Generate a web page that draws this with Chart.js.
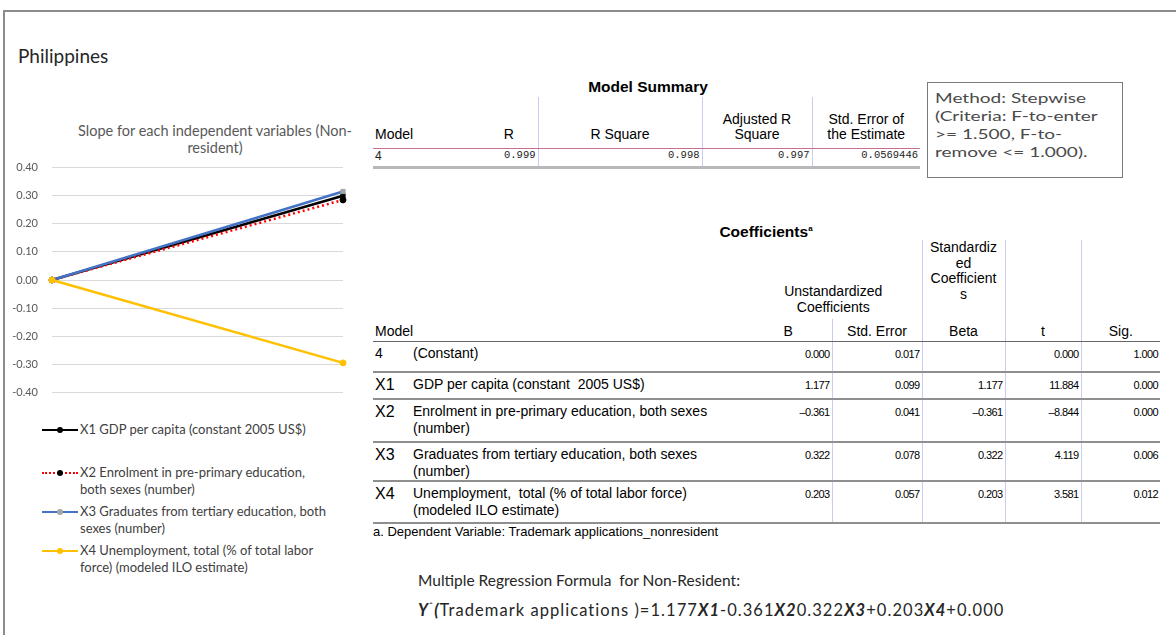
<!DOCTYPE html>
<html>
<head>
<meta charset="utf-8">
<script src="https://cdn.jsdelivr.net/npm/chart.js@4.4.1/dist/chart.umd.min.js"></script>
<style>
  html, body { margin: 0; padding: 0; background: #fff; }
  body { width: 1176px; height: 635px; overflow: hidden; position: relative; font-family: "Liberation Sans", Arial, sans-serif; color: #000; }
  .frame { position: absolute; left: 3px; top: 10px; width: 1220px; height: 700px; border: 2px solid #8c8c8c; box-sizing: border-box; }
  .country { position: absolute; left: 18px; top: 44px; font: 19px Lato, sans-serif; color: #262626; }
  .chart-title { position: absolute; left: 40px; top: 122px; width: 350px; text-align: center; font: 14.5px/17px Lato, sans-serif; color: #595959; }
  .chart-box { position: absolute; left: 0; top: 147px; width: 360px; height: 266px; }
  .legend { position: absolute; left: 42px; top: 421px; font: 13px/17px Lato, sans-serif; color: #404040; }
  .legend .item { position: relative; padding-left: 38px; margin-bottom: 5px; }
  .legend .item.first { margin-bottom: 26px; }
  .legend .swatch { position: absolute; left: 0; top: 8px; width: 36px; height: 0; }
  .legend .dot { position: absolute; left: 15px; top: 6px; width: 6px; height: 6px; border-radius: 50%; }

  .tbl-title { position: absolute; font-weight: bold; font-size: 15.5px; text-align: center; }
  table { position: absolute; border-collapse: collapse; table-layout: fixed; font-size: 14px; }
  th { font-weight: normal; padding: 0 2px; }
  .ms th { vertical-align: bottom; line-height: 15px; height: 45px; padding-bottom: 6px; border-bottom: 1px solid #c7708e; }
  .ms td { height: 17px; text-align: right; padding: 0 2px; font: 10.5px "Liberation Mono", monospace; color: #222; border-bottom: 3px solid #b8b8b8; vertical-align: top; }
  .ms .vl { border-right: 1px solid #cbcbf2; }
  .ms td.lft { text-align: left; font-family: "Liberation Sans", Arial, sans-serif; font-size: 12px; }

  .cf th { line-height: 15.5px; vertical-align: bottom; }
  .cf tr.h1 th { height: 74px; padding-bottom: 4px; }
  .cf tr.h1 th.std { height: 61px; padding-bottom: 17px; }
  .cf tr.h2 th { height: 20px; padding-bottom: 2px; border-bottom: 1px solid #666; }
  .cf td { vertical-align: top; padding: 3px 2px 0; line-height: 17px; border-bottom: 2px solid #8f8f8f; }
  .cf td.num { text-align: right; font-size: 11px; letter-spacing: -0.6px; padding-top: 4px; }
  .cf td.x { font-size: 16px; padding-left: 2px; line-height: 17px; }
  .cf .vl { border-right: 1px solid #cbcbf2; }

  .method { position: absolute; left: 927px; top: 82px; width: 196px; height: 96px; box-sizing: border-box; border: 1.5px solid #7a7a7a; }
  .method div { position: absolute; left: 7px; top: 6px; width: 140px; font: 14px/18px Lato, sans-serif; color: #4a4a4a; transform: scaleX(1.36); transform-origin: 0 0; white-space: nowrap; }
  .foot { position: absolute; left: 373px; top: 524px; font-size: 13px; }
  .formula { position: absolute; left: 418px; top: 568px; font: 15.5px/25px Lato, sans-serif; color: #262626; }
  .formula .f2 { font-size: 16.5px; letter-spacing: 1.05px; }
</style>
</head>
<body>
<div class="frame"></div>
<div class="country">Philippines</div>
<div class="chart-title">Slope for each independent variables (Non-<br>resident)</div>
<div class="chart-box"><canvas id="slopeChart"></canvas></div>
<div class="legend" id="legend"></div>

<div class="tbl-title" style="left:548px; top:78px; width:200px;">Model Summary</div>
<table class="ms" style="left:373px; top:97px; width:547px;" id="modelSummary"></table>

<div class="method"><div>Method: Stepwise<br>(Criteria: F-to-enter<br>&gt;= 1.500, F-to-<br>remove &lt;= 1.000).</div></div>

<div class="tbl-title" style="left:666px; top:223px; width:200px;">Coefficients<sup style="font-size:8px">a</sup></div>
<table class="cf" style="left:373px; top:240px; width:787px;" id="coefTable"></table>

<div class="foot">a. Dependent Variable: Trademark applications_nonresident</div>
<div class="formula">Multiple Regression Formula&nbsp; for Non-Resident:<br><span class="f2"><b><i>Y</i></b><sup style="font-size:10px">ˆ</sup><b><i>(</i></b>Trademark applications )=1.177<b><i>X1</i></b>-0.361<b><i>X2</i></b>0.322<b><i>X3</i></b>+0.203<b><i>X4</i></b>+0.000</span></div>

<script>
// chart data
const categories = ['', ''];
const x1Values = [0, 0.30];
const x2Values = [0, 0.285];
const x3Values = [0, 0.315];
const x4Values = [0, -0.295];
const yMin = -0.4;
const yMax = 0.4;
const yStep = 0.1;

const legendLines = [
    ['X1 GDP per capita (constant 2005 US$)'],
    ['X2 Enrolment in pre-primary education,', 'both sexes (number)'],
    ['X3 Graduates from tertiary education, both', 'sexes (number)'],
    ['X4 Unemployment, total (% of total labor', 'force) (modeled ILO estimate)']
];

// model summary
const msHeaders = ['Model', 'R', 'R Square', 'Adjusted R<br>Square', 'Std. Error of<br>the Estimate'];
const msValues = ['4', '0.999', '0.998', '0.997', '0.0569446'];

// coefficients
const coefCodes = ['4', 'X1', 'X2', 'X3', 'X4'];
const coefNames = [
    '(Constant)',
    'GDP per capita (constant&nbsp; 2005 US$)',
    'Enrolment in pre-primary education, both sexes (number)',
    'Graduates from tertiary education, both sexes (number)',
    'Unemployment,&nbsp; total (% of total labor force) (modeled ILO estimate)'
];
const coefB = [0.000, 1.177, -0.361, 0.322, 0.203];
const coefStdErr = [0.017, 0.099, 0.041, 0.078, 0.057];
const coefBeta = [null, 1.177, -0.361, 0.322, 0.203];
const coefT = [0.000, 11.884, -8.844, 4.119, 3.581];
const coefSig = [1.000, 0.000, 0.000, 0.006, 0.012];
const rowHeights = [30, 27, 43, 38, 42];

function fmt(v) {
    if (v === null) return '';
    return v.toFixed(3).replace('-', '–');
}

const seriesStyles = [
    { label: legendLines[0].join(' '), data: x1Values, borderColor: '#000000', pointBackgroundColor: '#000000', pointStyle: 'rect', order: 3, dash: [] },
    { label: legendLines[1].join(' '), data: x2Values, borderColor: '#ff0000', pointBackgroundColor: '#000000', pointStyle: 'circle', order: 2, dash: [2, 3] },
    { label: legendLines[2].join(' '), data: x3Values, borderColor: '#4472c4', pointBackgroundColor: '#a5a5a5', pointStyle: 'rect', order: 1, dash: [] },
    { label: legendLines[3].join(' '), data: x4Values, borderColor: '#ffc000', pointBackgroundColor: '#ffc000', pointStyle: 'circle', order: 0, dash: [] }
];

const slopeChart = new Chart(document.getElementById('slopeChart'), {
    type: 'line',
    data: {
        labels: categories,
        datasets: seriesStyles.map(s => ({
            label: s.label,
            data: s.data,
            borderColor: s.borderColor,
            backgroundColor: s.borderColor,
            borderWidth: 2.5,
            borderDash: s.dash,
            pointStyle: s.pointStyle,
            pointRadius: 3,
            pointBackgroundColor: s.pointBackgroundColor,
            pointBorderColor: s.pointBackgroundColor,
            pointBorderWidth: 1,
            order: s.order,
            tension: 0
        }))
    },
    options: {
        responsive: true,
        maintainAspectRatio: false,
        animation: false,
        layout: { padding: { top: 10, bottom: 8, left: 0, right: 17 } },
        plugins: {
            legend: { display: false },
            title: { display: false },
            tooltip: { enabled: false }
        },
        scales: {
            x: { display: false, offset: false },
            y: {
                min: yMin,
                max: yMax,
                ticks: {
                    stepSize: yStep,
                    padding: 14,
                    color: '#595959',
                    font: { family: 'Lato', size: 11 },
                    callback: v => v.toFixed(2)
                },
                grid: { color: '#d9d9d9', lineWidth: 1, drawTicks: false },
                border: { display: false },
                afterFit: scale => { scale.width = 52; }
            }
        }
    }
});

// legend built from the chart's datasets
const legendEl = document.getElementById('legend');
slopeChart.data.datasets.forEach((ds, i) => {
    const item = document.createElement('div');
    item.className = 'item' + (i === 0 ? ' first' : '');
    const sw = document.createElement('span');
    sw.className = 'swatch';
    sw.style.borderTop = '2px ' + (ds.borderDash.length ? 'dotted ' : 'solid ') + ds.borderColor;
    const dot = document.createElement('span');
    dot.className = 'dot';
    dot.style.background = ds.pointBackgroundColor;
    item.appendChild(sw);
    item.appendChild(dot);
    item.insertAdjacentHTML('beforeend', legendLines[i].join('<br>'));
    legendEl.appendChild(item);
});

// model summary table
const ms = document.getElementById('modelSummary');
ms.innerHTML =
    '<colgroup><col style="width:107px"><col style="width:58px"><col style="width:164px"><col style="width:110px"><col style="width:108px"></colgroup>' +
    '<tr><th style="text-align:left">' + msHeaders[0] + '</th>' +
    '<th class="vl">' + msHeaders[1] + '</th>' +
    '<th class="vl">' + msHeaders[2] + '</th>' +
    '<th class="vl">' + msHeaders[3] + '</th>' +
    '<th>' + msHeaders[4] + '</th></tr>' +
    '<tr><td class="lft">' + msValues[0] + '</td>' +
    '<td class="vl">' + msValues[1] + '</td>' +
    '<td class="vl">' + msValues[2] + '</td>' +
    '<td class="vl">' + msValues[3] + '</td>' +
    '<td>' + msValues[4] + '</td></tr>';

// coefficients table
const cf = document.getElementById('coefTable');
let html = '<colgroup><col style="width:38px"><col style="width:334px"><col style="width:87px"><col style="width:90px"><col style="width:83px"><col style="width:76px"><col style="width:79px"></colgroup>';
html += '<tr class="h1"><th colspan="2"></th>' +
    '<th colspan="2" class="vl">Unstandardized<br>Coefficients</th>' +
    '<th class="vl std">Standardiz<br>ed<br>Coefficient<br>s</th>' +
    '<th class="vl"></th><th></th></tr>';
html += '<tr class="h2"><th colspan="2" style="text-align:left">Model</th>' +
    '<th class="vl">B</th><th class="vl">Std. Error</th><th class="vl">Beta</th><th class="vl">t</th><th>Sig.</th></tr>';
coefCodes.forEach((code, i) => {
    const xCls = code.startsWith('X') ? 'x' : '';
    html += '<tr style="height:' + rowHeights[i] + 'px">' +
        '<td class="' + xCls + '">' + code + '</td>' +
        '<td>' + coefNames[i] + '</td>' +
        '<td class="num vl">' + fmt(coefB[i]) + '</td>' +
        '<td class="num vl">' + fmt(coefStdErr[i]) + '</td>' +
        '<td class="num vl">' + fmt(coefBeta[i]) + '</td>' +
        '<td class="num vl">' + fmt(coefT[i]) + '</td>' +
        '<td class="num">' + fmt(coefSig[i]) + '</td></tr>';
});
cf.innerHTML = html;
</script>
</body>
</html>
